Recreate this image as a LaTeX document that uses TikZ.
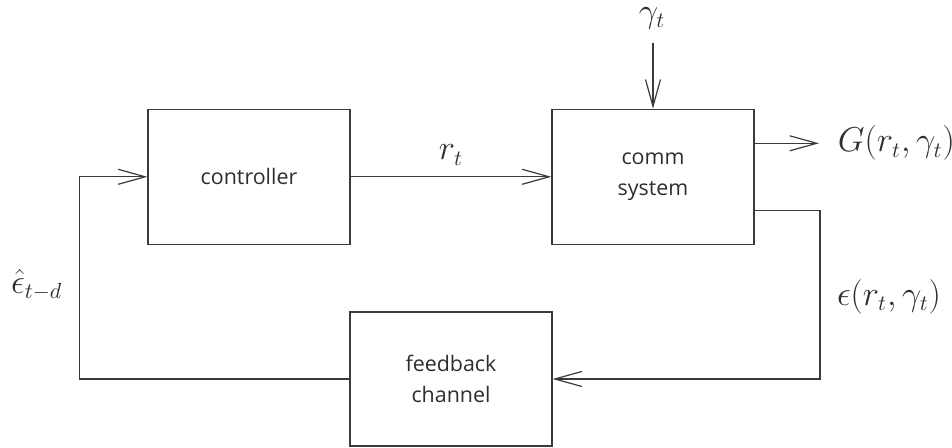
\documentclass[tikz,border=0pt]{standalone}
\usepackage{fontspec}
\setmainfont{Open Sans}
\usetikzlibrary{arrows.meta}
\definecolor{linecol}{HTML}{3A3A3A}
\definecolor{textcol}{HTML}{2E2E2E}
\tikzset{
  blockbox/.style={draw=linecol, line width=0.6pt, minimum width=101pt, minimum height=67.5pt, inner sep=0pt, align=center, text=textcol, font=\fontsize{10.7}{15.5}\selectfont},
  conn/.style={draw=linecol, line width=0.6pt},
  arr/.style={conn, -{Straight Barb[length=13.5pt, width=7.5pt, line width=0.6pt]}},
  mathlbl/.style={inner sep=0pt, text=textcol, font=\fontsize{16}{19}\selectfont}
}
\begin{document}
\begin{tikzpicture}[x=0.5pt, y=-0.5pt]
\useasboundingbox (0,0) rectangle (952,448);
\node[blockbox] (ctrl) at (249,176.8) {controller};
\node[blockbox] (comm) at (653,176.8) {comm\\system};
\node[blockbox, minimum height=67pt] (fb) at (451,379) {feedback\\channel};

\coordinate (gtip) at (819,143.3);
\coordinate (gstart) at (653,42.7);
\coordinate (ecorner) at (820,210.7);
\coordinate (fbcorner) at (79.3,379);

\node[mathlbl] (rt) at (451,155) {$r_t$};
\node[mathlbl] (gam) at (652,18) {$\gamma_t$};
\node[mathlbl, anchor=west] (G) at (837.5,143.3) {$G(r_t, \gamma_t)$};
\node[mathlbl] (eps) at (889,297) {$\epsilon(r_t, \gamma_t)$};
\node[mathlbl] (ehat) at (36.7,285) {$\hat{\epsilon}_{t-d}$};

\draw[arr] (ctrl.east) -- (comm.west);
\draw[arr] (gstart) -- (comm.north);
\draw[arr] (comm.east |- gtip) -- (gtip);
\draw[arr] (comm.east |- ecorner) -- (ecorner) |- (fb.east);
\draw[arr] (fb.west) -- (fbcorner) |- (ctrl.west);
\end{tikzpicture}
\end{document}
